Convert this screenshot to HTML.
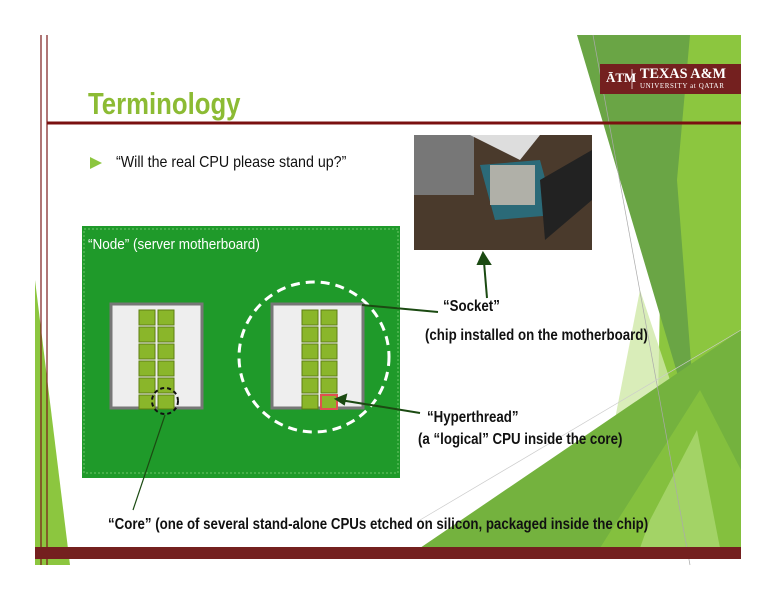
<!DOCTYPE html>
<html><head><style>
body{margin:0;width:776px;height:600px;background:#fff;position:relative;overflow:hidden;font-family:"Liberation Sans",sans-serif}
.t{position:absolute;white-space:nowrap;color:#111;font-size:16px;font-weight:bold;transform:scaleX(0.83);transform-origin:0 0}
</style></head><body>
<svg width="776" height="600" style="position:absolute;left:0;top:0">
<polygon points="670,35 741,35 741,548 655,548 660,300" fill="#8cc63f"/>
<polygon points="577,35 690,35 677,180 697,440" fill="#6aa545"/>
<polygon points="640,290 700,470 720,548 590,548" fill="#cfe8a8" opacity="0.8"/>
<polygon points="420,548 741,330 741,548" fill="#74b23e"/>
<polygon points="600,548 700,390 741,470 741,548" fill="#8cc63f" opacity="0.7"/>
<polygon points="650,520 697,430 720,548 640,548" fill="#b8df82" opacity="0.6"/>
<line x1="593" y1="35" x2="690" y2="565" stroke="#aaa" stroke-width="0.7"/>
<line x1="420" y1="520" x2="741" y2="330" stroke="#ccc" stroke-width="0.7"/>
<polygon points="35,280 35,565 70,565" fill="#8cc63f"/>
<line x1="41" y1="35" x2="41" y2="565" stroke="#7a1a1a" stroke-width="1.2"/>
<line x1="47" y1="35" x2="47" y2="565" stroke="#7a1a1a" stroke-width="1.2"/>
<line x1="47" y1="123" x2="741" y2="123" stroke="#7a1010" stroke-width="3"/>
<rect x="35" y="547" width="706" height="12" fill="#74201f"/>
<rect x="600" y="64" width="141" height="30" fill="#74201f"/>
<line x1="632" y1="69" x2="632" y2="89" stroke="#d8b8b8" stroke-width="1"/>
<rect x="414" y="135" width="178" height="115" fill="#4a3a2c"/>
<rect x="414" y="135" width="60" height="60" fill="#777"/>
<polygon points="480,165 540,160 555,215 495,220" fill="#2b6a78"/>
<rect x="490" y="165" width="45" height="40" fill="#b0b0a8"/>
<polygon points="540,180 592,150 592,200 545,240" fill="#222"/>
<polygon points="470,135 540,135 520,160" fill="#ddd"/>
<rect x="82" y="226" width="318" height="252" fill="#1f9a2a"/>
<rect x="84" y="229" width="314" height="244" fill="none" stroke="#6cc76a" stroke-width="1" stroke-dasharray="2,2"/>
<rect x="111" y="304" width="91" height="104" fill="#eee" stroke="#777" stroke-width="3"/>
<rect x="272" y="304" width="91" height="104" fill="#eee" stroke="#777" stroke-width="3"/>
<g fill="#8ab62a" stroke="#5d7f12" stroke-width="1">
<rect x="139" y="310" width="16" height="15"/><rect x="158" y="310" width="16" height="15"/>
<rect x="139" y="327" width="16" height="15"/><rect x="158" y="327" width="16" height="15"/>
<rect x="139" y="344" width="16" height="15"/><rect x="158" y="344" width="16" height="15"/>
<rect x="139" y="361" width="16" height="15"/><rect x="158" y="361" width="16" height="15"/>
<rect x="139" y="378" width="16" height="15"/><rect x="158" y="378" width="16" height="15"/>
<rect x="139" y="395" width="16" height="14"/><rect x="158" y="395" width="16" height="14"/>
<rect x="302" y="310" width="16" height="15"/><rect x="321" y="310" width="16" height="15"/>
<rect x="302" y="327" width="16" height="15"/><rect x="321" y="327" width="16" height="15"/>
<rect x="302" y="344" width="16" height="15"/><rect x="321" y="344" width="16" height="15"/>
<rect x="302" y="361" width="16" height="15"/><rect x="321" y="361" width="16" height="15"/>
<rect x="302" y="378" width="16" height="15"/><rect x="321" y="378" width="16" height="15"/>
<rect x="302" y="395" width="16" height="14"/><rect x="321" y="395" width="16" height="14" stroke="#e05050" stroke-width="2"/>
</g>
<circle cx="314" cy="357" r="75" fill="none" stroke="#fff" stroke-width="3" stroke-dasharray="9,6"/>
<circle cx="165" cy="401" r="13" fill="none" stroke="#111" stroke-width="2" stroke-dasharray="4,3"/>
<g stroke="#1b4a12" stroke-width="2" fill="#1b4a12">
<line x1="487" y1="298" x2="484" y2="262"/>
<polygon points="478,264 490,264 483,253"/>
<line x1="362" y1="305" x2="438" y2="312"/>
<line x1="340" y1="400" x2="420" y2="413"/>
<polygon points="336,399 346,395 344,404"/>
<line x1="165" y1="415" x2="133" y2="510" stroke-width="1.2"/>
</g>
<polygon points="90,157 90,169 102,163" fill="#8cc63f"/>
</svg>
<div class="t" style="left:88px;top:86px;font-size:31px;color:#8cbb34">Terminology</div>
<div class="t" style="left:116px;top:154px;font-weight:normal;font-size:16px;transform:scaleX(0.89)">“Will the real CPU please stand up?”</div>
<div class="t" style="left:88px;top:236px;color:#fff;font-weight:normal;font-size:15px;transform:scaleX(0.9)">“Node” (server motherboard)</div>
<div class="t" style="left:443px;top:298px">“Socket”</div>
<div class="t" style="left:425px;top:327px">(chip installed on the motherboard)</div>
<div class="t" style="left:427px;top:409px">“Hyperthread”</div>
<div class="t" style="left:418px;top:431px">(a “logical” CPU inside the core)</div>
<div class="t" style="left:108px;top:516px">“Core” (one of several stand-alone CPUs etched on silicon, packaged inside the chip)</div>
<div class="t" style="left:606px;top:70px;color:#fff;font-family:'Liberation Serif',serif;font-size:13px;transform:none">ĀTM</div>
<div class="t" style="left:640px;top:66px;color:#fff;font-family:'Liberation Serif',serif;font-size:15px;transform:scaleX(0.95)">TEXAS A&amp;M</div>
<div class="t" style="left:640px;top:82px;color:#fff;font-family:'Liberation Serif',serif;font-size:7px;font-weight:normal;transform:none;letter-spacing:0.6px">UNIVERSITY at QATAR</div>
</body></html>
